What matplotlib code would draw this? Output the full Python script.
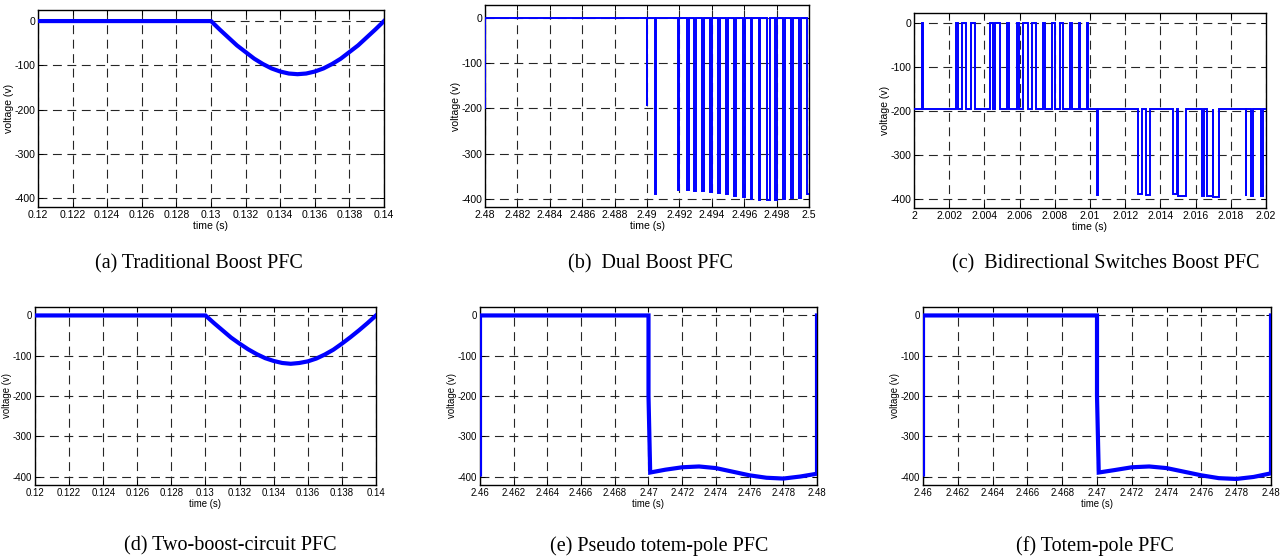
import numpy as np
import matplotlib
matplotlib.use("Agg")
import matplotlib.pyplot as plt

# ---- data ----
# (a) / (d) traditional + two-boost: zero, then a negative half wave
t_a = [0.12, 0.13, 0.1305, 0.131, 0.1315, 0.132, 0.1325, 0.133, 0.1335, 0.134, 0.1345, 0.135,
       0.1355, 0.136, 0.1365, 0.137, 0.1375, 0.138, 0.1385, 0.139, 0.1395, 0.14]
v_a = [0, 0, -19, -37, -55, -70, -85, -97, -107, -114, -118.5, -120,
       -118.5, -114, -107, -97, -85, -70, -55, -37, -19, 0]
t_d = list(t_a)
v_d = [0, 0, -19, -37, -55, -70, -84, -96, -106, -113, -118, -120,
       -118, -114, -107, -97, -85, -70, -54, -37, -19, 0]

# (b) dual boost: pulses from 0 down
b_start_level = -200
pulse_b_start = [2.4900, 2.4905, 2.4919, 2.49245, 2.4929, 2.4934, 2.4939, 2.4944, 2.4949, 2.4954,
                 2.4959, 2.4964, 2.4969, 2.4974, 2.4979, 2.4984, 2.4989, 2.4994, 2.4999]
pulse_b_end = [2.49003, 2.49053, 2.4920, 2.4926, 2.4930, 2.4935, 2.4940, 2.4945, 2.4950, 2.4955,
               2.49605, 2.4965, 2.4970, 2.4976, 2.4980, 2.4985, 2.4990, 2.4995, 2.5]
pulse_b_depth = [-195, -390, -380, -380, -382, -383, -385, -388, -390, -393,
                 -395, -400, -402, -402, -402, -400, -397, -397, -390]

# (c) bidirectional switches: base about -195, pulses up to 0 then down to -390
c_base = -195
pulse_c_start = [2.00044, 2.00239, 2.00272, 2.00322, 2.00432, 2.00462, 2.00527, 2.00586, 2.00622,
                 2.00672, 2.00733, 2.00784, 2.00828, 2.00886, 2.00940, 2.00981,
                 2.01041, 2.01271, 2.01318, 2.01470, 2.01502, 2.01638, 2.01663, 2.01701,
                 2.01884, 2.01913, 2.01972]
pulse_c_end = [2.00053, 2.00248, 2.00294, 2.00345, 2.00447, 2.00491, 2.00542, 2.00598, 2.00645,
               2.00693, 2.00744, 2.00801, 2.00845, 2.00896, 2.00946, 2.00991,
               2.01043, 2.01294, 2.01341, 2.01493, 2.01545, 2.01648, 2.01697, 2.01735,
               2.01889, 2.01928, 2.01981]
pulse_c_level = [0, 0, 0, 0, 0, 0, 0, 0, 0, 0, 0, 0, 0, 0, 0, 0,
                 -390, -388, -390, -388, -392, -392, -393, -394, -392, -392, -392]

# (e) pseudo totem-pole, (f) totem-pole
t_e = [2.46, 2.46, 2.47, 2.47, 2.4701, 2.471, 2.472, 2.473, 2.474, 2.475, 2.476, 2.477,
       2.478, 2.479, 2.48, 2.48]
v_e = [-395, 0, 0, -200, -390, -383, -377, -375, -379, -388, -397, -403, -405, -400, -393, 0]
t_f = list(t_e)
v_f = [-395, 0, 0, -200, -390, -384, -377, -375, -379, -388, -397, -404, -406, -401, -392, 0]

captions = ["(a) Traditional Boost PFC", "(b)  Dual Boost PFC", "(c)  Bidirectional Switches Boost PFC",
            "(d) Two-boost-circuit PFC", "(e) Pseudo totem-pole PFC", "(f) Totem-pole PFC"]
xranges = [(0.12, 0.14), (2.48, 2.5), (2.0, 2.02), (0.12, 0.14), (2.46, 2.48), (2.46, 2.48)]


def steps(t0, t1, base, starts, ends, levels, first=None):
    ts, vs = [], []
    if first is not None:
        ts += [t0, t0]
        vs += [first, base]
    else:
        ts.append(t0)
        vs.append(base)
    for s, e, lv in zip(starts, ends, levels):
        ts += [s, s, e, e]
        vs += [base, lv, lv, base]
    if ts[-1] >= t1:
        ts, vs = ts[:-1], vs[:-1]
    else:
        ts.append(t1)
        vs.append(base)
    return ts, vs


t_b, v_b = steps(2.48, 2.5, 0, pulse_b_start, pulse_b_end, pulse_b_depth, first=b_start_level)
t_c, v_c = steps(2.0, 2.02, c_base, pulse_c_start, pulse_c_end, pulse_c_level)

series = [(t_a, v_a, 3.0), (t_b, v_b, 1.4), (t_c, v_c, 1.4),
          (t_d, v_d, 3.0), (t_e, v_e, 3.0), (t_f, v_f, 3.0)]

W, H = 1284, 557
# axes boxes in pixels: left, right, top, bottom
boxes = [(38, 384, 10, 207), (485, 809, 5, 207), (914, 1266, 13, 208),
         (35, 376, 307, 485), (480, 817, 307, 485), (923, 1271, 307, 485)]
ylims = [(-420, 25), (-418, 29), (-420, 22), (-421, 21), (-421, 21), (-421, 21)]
cap_pos = [(199, 264), (650, 264), (1106, 264), (230, 546), (659, 546), (1095, 546)]

tickfont = ['Liberation Sans Narrow', 'Liberation Sans', 'DejaVu Sans']
fig = plt.figure(figsize=(W / 100, H / 100), dpi=100)

for i in range(6):
    l, r, tp, bt = boxes[i]
    ax = fig.add_axes([l / W, 1 - bt / H, (r - l) / W, (bt - tp) / H])
    t, v, lw = series[i]
    ax.plot(t, v, color=(0, 0, 1), lw=lw, solid_joinstyle='miter', zorder=3)
    x0, x1 = xranges[i]
    xt = np.linspace(x0, x1, 11)
    ax.set_xticks(xt)
    ax.set_xticklabels(['%g' % round(x, 4) for x in xt], family=tickfont)
    yt = [0, -100, -200, -300, -400]
    ax.set_yticks(yt)
    ax.set_yticklabels([str(y) for y in yt], family=tickfont)
    ax.set_xlim(x0, x1)
    ax.set_ylim(*ylims[i])
    fs = 7.6 if i < 3 else 6.9
    ax.tick_params(direction='in', top=True, right=True, length=3.5, width=0.7,
                   labelsize=fs, pad=2)
    ax.grid(True, color='0.15', lw=0.8, linestyle=(0, (8, 5)))
    for sp in ax.spines.values():
        sp.set_linewidth(1.0)
    ax.set_xlabel('time (s)', family=tickfont, fontsize=fs, labelpad=1)
    ax.set_ylabel('voltage (v)', family=tickfont, fontsize=fs, labelpad=0.5)
    cx, cy = cap_pos[i]
    fig.text(cx / W, 1 - cy / H, captions[i], ha='center', va='center',
             family=['Liberation Serif', 'DejaVu Serif'], fontsize=14.5)

fig.savefig('out.png', dpi=100)
